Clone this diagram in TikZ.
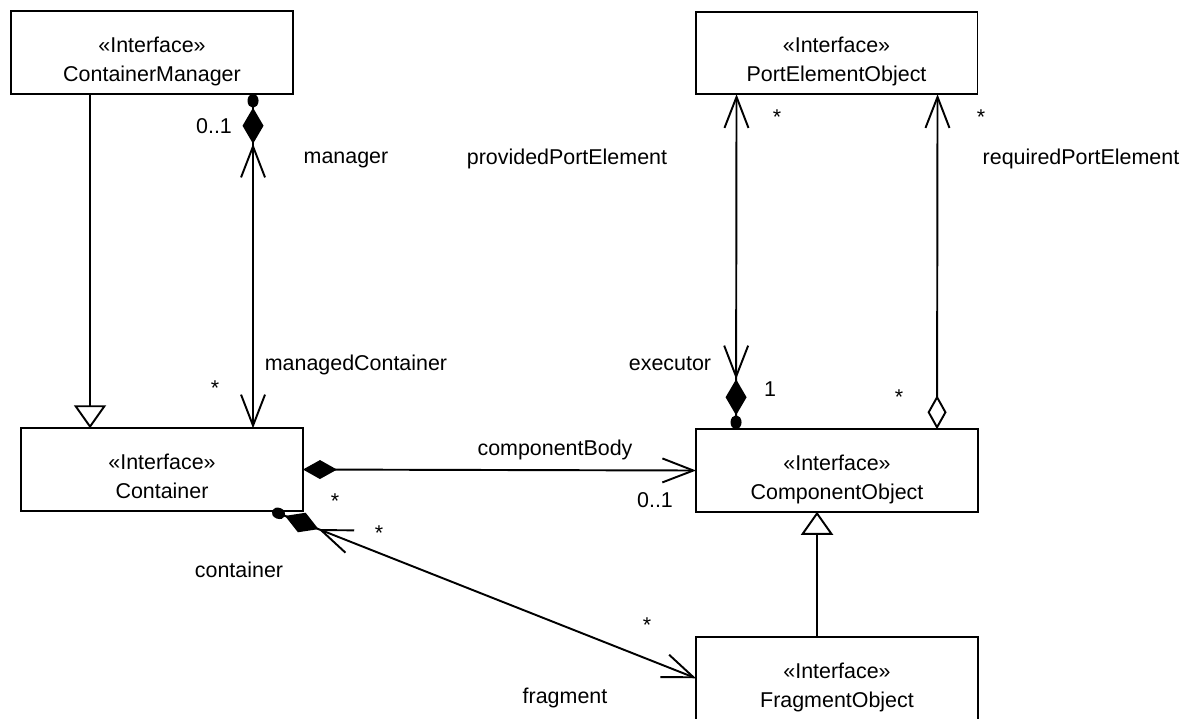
\documentclass[tikz,border=0pt]{standalone}
\usepackage{fontspec}
\setmainfont{Liberation Sans}
\usetikzlibrary{arrows.meta,calc}

\tikzset{
  barb/.tip={Straight Barb[length=0.62cm,width=0.48cm]},
  ball/.tip={Circle[length=0.28cm,width=0.22cm]},
  compo/.tip={barb[] Diamond[length=0.72cm,width=0.42cm] ball[]},
  aggr/.tip={Diamond[fill=white,length=0.68cm,width=0.38cm]},
  gen/.tip={Triangle[fill=white,length=0.46cm,width=0.64cm]},
  box/.style={draw, minimum width=5.64cm, minimum height=1.65cm, inner sep=0pt, outer sep=0pt},
  txt/.style={font=\fontsize{12.2}{14}\selectfont, inner sep=0pt, anchor=base},
}

\begin{document}
\begin{tikzpicture}[x=0.02cm, y=-0.02cm, line width=1.1pt]
  \useasboundingbox (0,0) rectangle (1200,718);
  % interfaces
  \foreach \n/\p/\t in {cm/{152,52.5}/ContainerManager,
                        peo/{836.5,53}/PortElementObject,
                        cont/{162,469.5}/Container,
                        comp/{837,470.5}/ComponentObject,
                        frag/{837,678.5}/FragmentObject}
  {
    \node[box] (\n) at (\p) {};
    \node[txt] (\n-st) at ($(\n.north)+(0,41)$) {«Interface»};
    \node[txt] (\n-nm) at ($(\n.north)+(0,70)$) {\t};
  }
  % generalizations
  \draw[-{gen[]}] ($(cm.south west)+(79,0)$) -- ($(cont.north west)+(69,0)$);
  \draw[-{gen[]}] ($(frag.north west)+(121,0)$) -- ($(comp.south west)+(121,0)$);
  % associations
  \draw[{compo[]}-{barb[]}] ($(cm.south west)+(242,0)$) -- ($(cont.north west)+(232,0)$);
  \draw[{compo[]}-{barb[]}] ($(comp.north west)+(40,0)$) -- ($(peo.south west)+(41,0)$);
  \draw[{aggr[]}-{barb[]}] ($(comp.north west)+(241,0)$) -- ($(peo.south west)+(242,0)$);
  \draw[{Diamond[length=0.68cm,width=0.38cm]}-{barb[]}] (cont.east) -- (comp.west);
  \draw[{compo[]}-{barb[]}] ($(cont.south west)+(251,0)$) -- ($(frag.north west)+(0,41)$);
  % roles and multiplicities
  \foreach \n/\x/\y/\t in {mgrmult/214/133/{0..1}, mgrrole/346/163/manager,
                           mcmult/215/395/{*}, mcrole/356/370/managedContainer,
                           ppmult/777/124/{*}, pprole/567/164/providedPortElement,
                           exrole/670/370/executor, exmult/770/396/1,
                           rpmult/981/124/{*}, rprole/1081/164/requiredPortElement,
                           rcmult/899/404/{*},
                           cbrole/555/455/componentBody, cbcont/335/508/{*},
                           cbmult/655/507/{0..1},
                           ctrole/239/577/container, ctmult/379/540/{*},
                           frmult/647/632/{*}, frrole/565/703/fragment}
    \node[txt] (\n) at (\x,\y) {\t};
\end{tikzpicture}
\end{document}
